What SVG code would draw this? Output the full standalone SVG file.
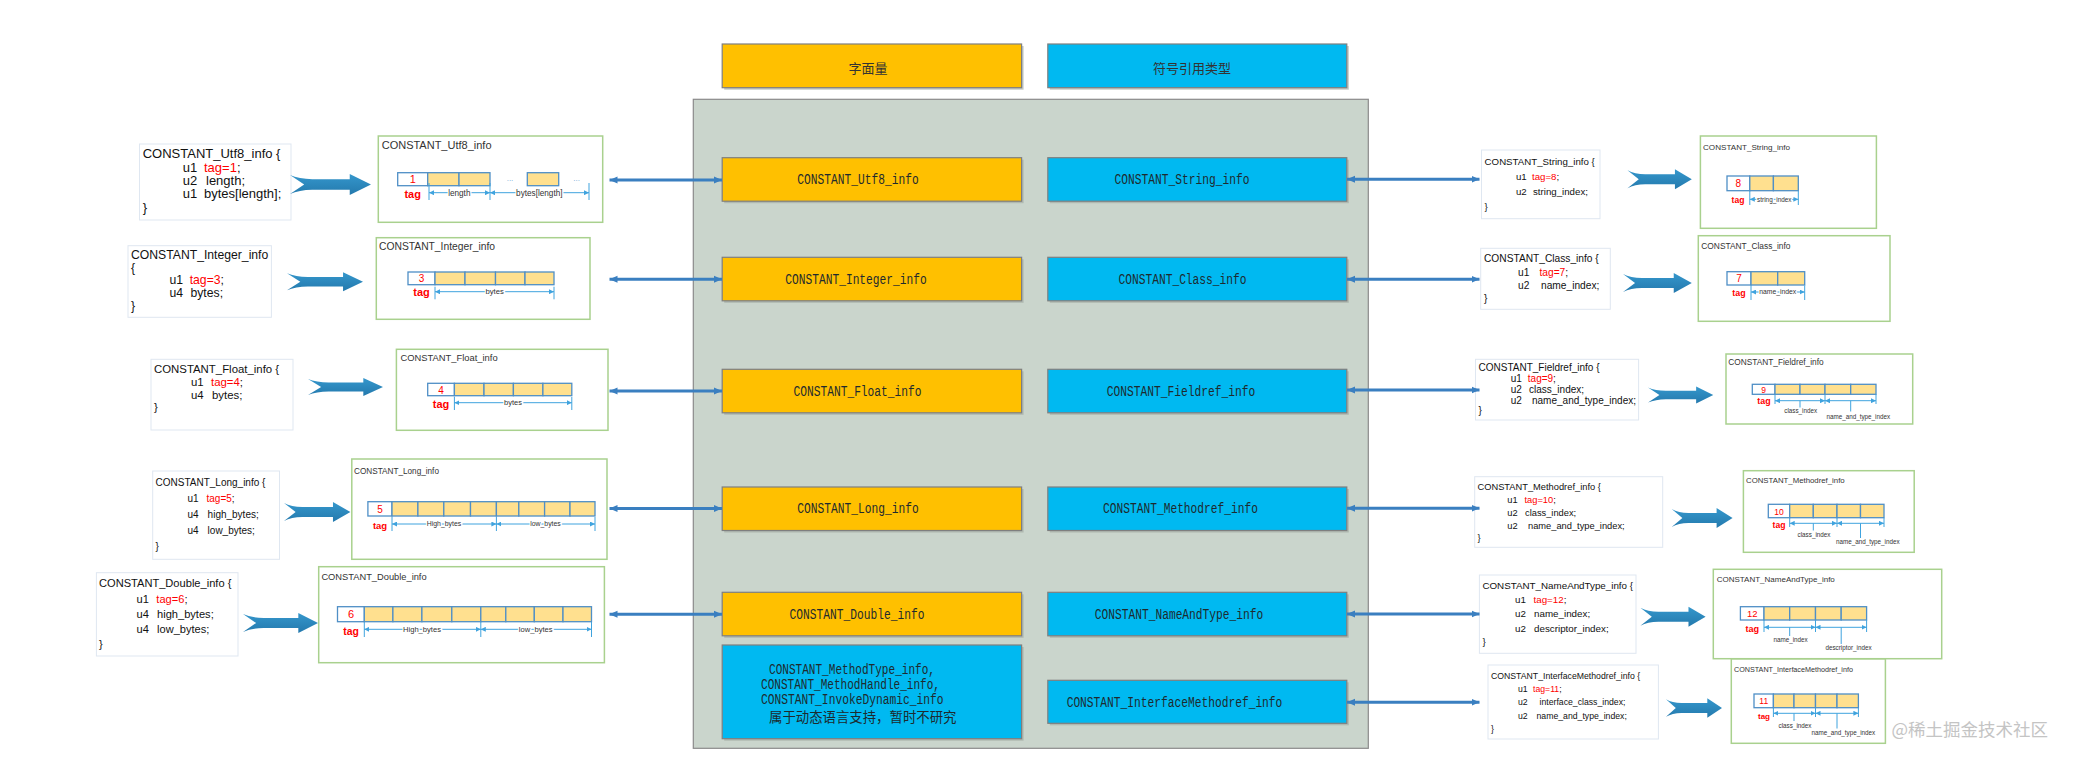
<svg xmlns="http://www.w3.org/2000/svg" width="2073" height="762" viewBox="0 0 2073 762">
<defs>
<style>
.code{font-family:"Liberation Sans",Arial,sans-serif;fill:#111}
.red{fill:#ff0000}
.codebox{fill:#fff;stroke:#dfe7f1;stroke-width:1}
.gbox{fill:#fff;stroke:#a9d18e;stroke-width:1.5}
.gtitle{font-family:"Liberation Sans",Arial,sans-serif;fill:#333}
.cell{fill:#ffe08f;stroke:#4f8fc6;stroke-width:1.3}
.tagcell{fill:#fff;stroke:#4f8fc6;stroke-width:1.3}
.dig{font-family:"Liberation Sans",Arial,sans-serif;fill:#ff0000;text-anchor:middle}
.tag{font-family:"Liberation Sans",Arial,sans-serif;font-weight:bold;fill:#ff0000;text-anchor:middle}
.dots{font-family:"Liberation Sans",Arial,sans-serif;fill:#6fa8d6;font-size:8px;text-anchor:middle}
.dim{stroke:#3fa3de;stroke-width:1;marker-start:url(#da);marker-end:url(#da)}
.tick{stroke:#3fa3de;stroke-width:1;fill:none}
.dl{font-family:"Liberation Sans",Arial,sans-serif;fill:#333;text-anchor:middle;paint-order:stroke;stroke:#fff;stroke-width:2.5}
.dl2{font-family:"Liberation Sans",Arial,sans-serif;fill:#333;text-anchor:middle;font-size:6.3px}
.conn{stroke:#3a7fc0;stroke-width:3;fill:none;marker-start:url(#ah);marker-end:url(#ah)}
.big{fill:url(#bg)}
.obox{fill:#ffc000;stroke:#7f7f7f;stroke-width:1.2}
.bbox{fill:#00b9f1;stroke:#7f7f7f;stroke-width:1.2}
.sh{fill:#9fa79f;opacity:.6}
.ctext{font-family:"Liberation Mono",monospace;font-size:14px;fill:#1e2a2e;text-anchor:middle}
.ctl{font-family:"Liberation Mono",monospace;font-size:14px;fill:#1e2a2e}
.hdr{font-family:"Noto Sans CJK SC",sans-serif;font-size:13px;fill:#333;text-anchor:middle}
</style>
<marker id="ah" viewBox="0 0 8 8" refX="8" refY="4" markerWidth="8" markerHeight="8" markerUnits="userSpaceOnUse" orient="auto-start-reverse"><path d="M0,0.5 L8,4 L0,7.5 Z" fill="#3a7fc0"/></marker>
<marker id="da" viewBox="0 0 6 6" refX="6" refY="3" markerWidth="5" markerHeight="5" markerUnits="userSpaceOnUse" orient="auto-start-reverse"><path d="M0,0 L6,3 L0,6 Z" fill="#3fa3de"/></marker>
<linearGradient id="bg" x1="0" y1="0" x2="0" y2="1"><stop offset="0" stop-color="#3597cc"/><stop offset="1" stop-color="#2479ad"/></linearGradient>
<path id="ba" d="M0,-9.5 Q9,-5.5 22,-5.3 L59,-5.3 L59,-10.5 L80,0 L59,10.5 L59,5.3 L22,5.3 Q9,5.5 0,9.5 L14,0 Z"/>
</defs>
<rect width="2073" height="762" fill="#fff"/>

<!-- center panel -->
<g id="panel">
<rect x="693.3" y="99.3" width="675" height="649" fill="#cad5cc" stroke="#8a8a8a" stroke-width="1.2"/>
</g>
<g id="hdr-literal">
<rect class="sh" x="724.2" y="46" width="299.4" height="43.7"/>
<rect class="obox" x="722.2" y="44" width="299.4" height="43.7"/>
<text class="hdr" x="868" y="72.8">字面量</text>
</g>
<g id="hdr-symbolic">
<rect class="sh" x="1049.8" y="46" width="299" height="43.7"/>
<rect class="bbox" x="1047.8" y="44" width="299" height="43.7"/>
<text class="hdr" x="1192" y="72.8">符号引用类型</text>
</g>

<g id="c-utf8"><rect class="sh" x="724.2" y="159.7" width="299.4" height="43.5"/><rect class="obox" x="722.2" y="157.7" width="299.4" height="43.5"/><text class="ctext" x="858" y="184" textLength="121.3" lengthAdjust="spacingAndGlyphs">CONSTANT_Utf8_info</text></g>
<g id="c-integer"><rect class="sh" x="724.2" y="259.3" width="299.4" height="43.5"/><rect class="obox" x="722.2" y="257.3" width="299.4" height="43.5"/><text class="ctext" x="856" y="283.6" textLength="141.5" lengthAdjust="spacingAndGlyphs">CONSTANT_Integer_info</text></g>
<g id="c-float"><rect class="sh" x="724.2" y="371.3" width="299.4" height="43.5"/><rect class="obox" x="722.2" y="369.3" width="299.4" height="43.5"/><text class="ctext" x="857.5" y="395.6" textLength="128" lengthAdjust="spacingAndGlyphs">CONSTANT_Float_info</text></g>
<g id="c-long"><rect class="sh" x="724.2" y="489" width="299.4" height="43.5"/><rect class="obox" x="722.2" y="487" width="299.4" height="43.5"/><text class="ctext" x="858" y="513.3" textLength="121.3" lengthAdjust="spacingAndGlyphs">CONSTANT_Long_info</text></g>
<g id="c-double"><rect class="sh" x="724.2" y="594.3" width="299.4" height="43.5"/><rect class="obox" x="722.2" y="592.3" width="299.4" height="43.5"/><text class="ctext" x="857" y="618.6" textLength="134.8" lengthAdjust="spacingAndGlyphs">CONSTANT_Double_info</text></g>
<g id="c-dynamic"><rect class="sh" x="724.2" y="647" width="299.4" height="93.7"/><rect class="bbox" x="722.2" y="645" width="299.4" height="93.7"/>
<text class="ctl" x="769" y="673.5" textLength="166" lengthAdjust="spacingAndGlyphs">CONSTANT_MethodType_info,</text>
<text class="ctl" x="761" y="688.5" textLength="179" lengthAdjust="spacingAndGlyphs">CONSTANT_MethodHandle_info,</text>
<text class="ctl" x="761" y="703.5" textLength="182.6" lengthAdjust="spacingAndGlyphs">CONSTANT_InvokeDynamic_info</text>
<text x="769" y="721.5" font-family="Noto Sans CJK SC,sans-serif" font-size="13.4" fill="#1e2a2e">属于动态语言支持，暂时不研究</text></g>

<g id="c-string"><rect class="sh" x="1049.8" y="159.7" width="299" height="43.5"/><rect class="bbox" x="1047.8" y="157.7" width="299" height="43.5"/><text class="ctext" x="1182" y="184" textLength="134.8" lengthAdjust="spacingAndGlyphs">CONSTANT_String_info</text></g>
<g id="c-class"><rect class="sh" x="1049.8" y="259.3" width="299" height="43.5"/><rect class="bbox" x="1047.8" y="257.3" width="299" height="43.5"/><text class="ctext" x="1182.5" y="283.6" textLength="128" lengthAdjust="spacingAndGlyphs">CONSTANT_Class_info</text></g>
<g id="c-fieldref"><rect class="sh" x="1049.8" y="371.3" width="299" height="43.5"/><rect class="bbox" x="1047.8" y="369.3" width="299" height="43.5"/><text class="ctext" x="1181" y="395.6" textLength="148.3" lengthAdjust="spacingAndGlyphs">CONSTANT_Fieldref_info</text></g>
<g id="c-methodref"><rect class="sh" x="1049.8" y="489" width="299" height="43.5"/><rect class="bbox" x="1047.8" y="487" width="299" height="43.5"/><text class="ctext" x="1180.5" y="513.3" textLength="155" lengthAdjust="spacingAndGlyphs">CONSTANT_Methodref_info</text></g>
<g id="c-nameandtype"><rect class="sh" x="1049.8" y="594.3" width="299" height="43.5"/><rect class="bbox" x="1047.8" y="592.3" width="299" height="43.5"/><text class="ctext" x="1179" y="618.6" textLength="168.5" lengthAdjust="spacingAndGlyphs">CONSTANT_NameAndType_info</text></g>
<g id="c-interface"><rect class="sh" x="1049.8" y="682.3" width="299" height="43"/><rect class="bbox" x="1047.8" y="680.3" width="299" height="43"/><text class="ctext" x="1174.5" y="706.6" textLength="215.7" lengthAdjust="spacingAndGlyphs">CONSTANT_InterfaceMethodref_info</text></g>

<!-- left code boxes -->
<g id="code-utf8"><rect class="codebox" x="139.5" y="144" width="151.5" height="76"/>
<g class="code" font-size="13">
<text x="142.7" y="158.3">CONSTANT_Utf8_info {</text>
<text x="182.7" y="171.7">u1</text><text x="204" y="171.7"><tspan class="red">tag=1</tspan>;</text>
<text x="182.7" y="185">u2</text><text x="206" y="185">length;</text>
<text x="182.7" y="198.3">u1</text><text x="204" y="198.3">bytes[length];</text>
<text x="142.7" y="211.7">}</text></g></g>

<g id="code-integer"><rect class="codebox" x="128" y="245.7" width="143.4" height="71.6"/>
<g class="code" font-size="12.2">
<text x="131" y="258.5">CONSTANT_Integer_info</text>
<text x="131" y="271.5">{</text>
<text x="169.6" y="284">u1</text><text x="189.7" y="284"><tspan class="red">tag=3</tspan>;</text>
<text x="169.6" y="297.3">u4</text><text x="190.5" y="297.3">bytes;</text>
<text x="131" y="310">}</text></g></g>

<g id="code-float"><rect class="codebox" x="151" y="359.3" width="142" height="70.7"/>
<g class="code" font-size="11.4">
<text x="154" y="372.5">CONSTANT_Float_info {</text>
<text x="191" y="385.8">u1</text><text x="211" y="385.8"><tspan class="red">tag=4</tspan>;</text>
<text x="191" y="399">u4</text><text x="212" y="399">bytes;</text>
<text x="154" y="410.8">}</text></g></g>

<g id="code-long"><rect class="codebox" x="152.7" y="471" width="126.8" height="88.3"/>
<g class="code" font-size="10">
<text x="155.5" y="485.8">CONSTANT_Long_info {</text>
<text x="187.5" y="501.8">u1</text><text x="206.5" y="501.8"><tspan class="red">tag=5</tspan>;</text>
<text x="187.5" y="518">u4</text><text x="207.6" y="518">high_bytes;</text>
<text x="187.5" y="534">u4</text><text x="207.6" y="534">low_bytes;</text>
<text x="155.5" y="550">}</text></g></g>

<g id="code-double"><rect class="codebox" x="96.4" y="572.7" width="141.6" height="83.3"/>
<g class="code" font-size="11.1">
<text x="99" y="586.8">CONSTANT_Double_info {</text>
<text x="136.6" y="602.5">u1</text><text x="156.3" y="602.5"><tspan class="red">tag=6</tspan>;</text>
<text x="136.6" y="617.8">u4</text><text x="157" y="617.8">high_bytes;</text>
<text x="136.6" y="632.5">u4</text><text x="157" y="632.5">low_bytes;</text>
<text x="99" y="647.5">}</text></g></g>

<!-- right code boxes -->
<g id="code-string"><rect class="codebox" x="1481.5" y="150" width="118.5" height="68.7"/>
<g class="code" font-size="9.7">
<text x="1484.6" y="164.5">CONSTANT_String_info {</text>
<text x="1515.9" y="180">u1</text><text x="1532" y="180"><tspan class="red">tag=8</tspan>;</text>
<text x="1515.9" y="195">u2</text><text x="1533" y="195">string_index;</text>
<text x="1484.6" y="209.5">}</text></g></g>

<g id="code-class"><rect class="codebox" x="1480.7" y="248.3" width="129.6" height="61"/>
<g class="code" font-size="10.2">
<text x="1484" y="261.8">CONSTANT_Class_info {</text>
<text x="1518" y="275.8">u1</text><text x="1539.5" y="275.8"><tspan class="red">tag=7</tspan>;</text>
<text x="1518" y="289.2">u2</text><text x="1541" y="289.2">name_index;</text>
<text x="1484" y="301.8">}</text></g></g>

<g id="code-fieldref"><rect class="codebox" x="1475.5" y="359.3" width="163.1" height="60.7"/>
<g class="code" font-size="10">
<text x="1478.5" y="370.5">CONSTANT_Fieldref_info {</text>
<text x="1510.7" y="381.5">u1</text><text x="1527.8" y="381.5"><tspan class="red">tag=9</tspan>;</text>
<text x="1510.7" y="393">u2</text><text x="1529" y="393">class_index;</text>
<text x="1510.7" y="404">u2</text><text x="1532" y="404">name_and_type_index;</text>
<text x="1478.5" y="414">}</text></g></g>

<g id="code-methodref"><rect class="codebox" x="1474.7" y="476.7" width="188" height="70.6"/>
<g class="code" font-size="9.3">
<text x="1477.5" y="489.5">CONSTANT_Methodref_info {</text>
<text x="1507.3" y="502.8">u1</text><text x="1524.5" y="502.8"><tspan class="red">tag=10</tspan>;</text>
<text x="1507.3" y="515.8">u2</text><text x="1525" y="515.8">class_index;</text>
<text x="1507.3" y="528.5">u2</text><text x="1528" y="528.5">name_and_type_index;</text>
<text x="1477.5" y="540.8">}</text></g></g>

<g id="code-nameandtype"><rect class="codebox" x="1479.4" y="575" width="156.6" height="78.3"/>
<g class="code" font-size="9.8">
<text x="1482.4" y="588.5">CONSTANT_NameAndType_info {</text>
<text x="1515" y="602.8">u1</text><text x="1533.5" y="602.8"><tspan class="red">tag=12</tspan>;</text>
<text x="1515" y="616.8">u2</text><text x="1534" y="616.8">name_index;</text>
<text x="1515" y="631.5">u2</text><text x="1534" y="631.5">descriptor_index;</text>
<text x="1482.4" y="644.5">}</text></g></g>

<g id="code-interface"><rect class="codebox" x="1488" y="665" width="170.4" height="74"/>
<g class="code" font-size="8.7">
<text x="1491" y="678.5">CONSTANT_InterfaceMethodref_info {</text>
<text x="1518" y="691.8">u1</text><text x="1533" y="691.8"><tspan class="red">tag=11</tspan>;</text>
<text x="1518" y="705.2">u2</text><text x="1539.5" y="705.2">interface_class_index;</text>
<text x="1518" y="718.5">u2</text><text x="1536.5" y="718.5">name_and_type_index;</text>
<text x="1491" y="731.8">}</text></g></g>

<!-- left layout diagrams -->
<g id="diag-utf8"><rect class="gbox" x="378.3" y="136" width="224.4" height="86.3"/>
<text class="gtitle" x="381.7" y="149" font-size="11">CONSTANT_Utf8_info</text>
<rect class="tagcell" x="397.7" y="172.7" width="30" height="13"/><text class="dig" x="412.7" y="183.3" font-size="11">1</text>
<rect class="cell" x="427.7" y="172.7" width="31.3" height="13"/><rect class="cell" x="459" y="172.7" width="31" height="13"/>
<text class="dots" x="510" y="181">...</text>
<rect class="cell" x="527.3" y="172.7" width="31.4" height="13"/>
<text class="dots" x="576.7" y="181">...</text>
<text class="tag" x="412.7" y="197.5" font-size="11">tag</text>
<path class="tick" d="M429,183V200M490,183V200M589,183V200"/>
<line class="dim" x1="429" y1="192.7" x2="490" y2="192.7"/><line class="dim" x1="490" y1="192.7" x2="589" y2="192.7"/>
<text class="dl" x="459.3" y="195.5" font-size="8.2">length</text><text class="dl" x="539.3" y="195.5" font-size="8.2">bytes[length]</text></g>

<g id="diag-integer"><rect class="gbox" x="376.3" y="237.7" width="213.7" height="81.6"/>
<text class="gtitle" x="379" y="250" font-size="10.3">CONSTANT_Integer_info</text>
<rect class="tagcell" x="408" y="272" width="27" height="12.7"/><text class="dig" x="421.5" y="282.3" font-size="10">3</text>
<rect class="cell" x="435" y="272" width="30" height="12.7"/><rect class="cell" x="465" y="272" width="30.5" height="12.7"/><rect class="cell" x="495.5" y="272" width="29.5" height="12.7"/><rect class="cell" x="525" y="272" width="29" height="12.7"/>
<text class="tag" x="421.5" y="296" font-size="11">tag</text>
<path class="tick" d="M435,286.7V299.3M554,286.7V299.3"/>
<line class="dim" x1="435" y1="291.7" x2="554" y2="291.7"/>
<text class="dl" x="494.6" y="294.3" font-size="7.7">bytes</text></g>

<g id="diag-float"><rect class="gbox" x="396.4" y="349.3" width="211.6" height="81"/>
<text class="gtitle" x="400.4" y="361" font-size="9.4">CONSTANT_Float_info</text>
<rect class="tagcell" x="427.7" y="383.3" width="26.7" height="12.4"/><text class="dig" x="441" y="393.5" font-size="10">4</text>
<rect class="cell" x="454.4" y="383.3" width="29.6" height="12.4"/><rect class="cell" x="484" y="383.3" width="29.4" height="12.4"/><rect class="cell" x="513.4" y="383.3" width="29.5" height="12.4"/><rect class="cell" x="542.9" y="383.3" width="28.9" height="12.4"/>
<text class="tag" x="441" y="407.5" font-size="11">tag</text>
<path class="tick" d="M454.4,397V410M571.8,397V410"/>
<line class="dim" x1="454.4" y1="402.7" x2="571.8" y2="402.7"/>
<text class="dl" x="513" y="405.2" font-size="7.5">bytes</text></g>

<g id="diag-long"><rect class="gbox" x="351.8" y="459" width="255.2" height="100.3"/>
<text class="gtitle" x="354" y="473.5" font-size="8.2">CONSTANT_Long_info</text>
<rect class="tagcell" x="367.9" y="501.7" width="24.1" height="14.3"/><text class="dig" x="380" y="512.5" font-size="10">5</text>
<rect class="cell" x="392" y="501.7" width="25.9" height="14.3"/><rect class="cell" x="417.9" y="501.7" width="25.9" height="14.3"/><rect class="cell" x="443.8" y="501.7" width="26.7" height="14.3"/><rect class="cell" x="470.5" y="501.7" width="25.9" height="14.3"/><rect class="cell" x="496.4" y="501.7" width="22.4" height="14.3"/><rect class="cell" x="518.8" y="501.7" width="25.8" height="14.3"/><rect class="cell" x="544.6" y="501.7" width="25.4" height="14.3"/><rect class="cell" x="570" y="501.7" width="25" height="14.3"/>
<text class="tag" x="380" y="529" font-size="9.5">tag</text>
<path class="tick" d="M392,517V531M496.4,517V531M595,517V531"/>
<line class="dim" x1="392" y1="524" x2="496.4" y2="524"/><line class="dim" x1="496.4" y1="524" x2="595" y2="524"/>
<text class="dl" x="444" y="526.3" font-size="6.9">High_bytes</text><text class="dl" x="545.5" y="526.3" font-size="6.9">low_bytes</text></g>

<g id="diag-double"><rect class="gbox" x="318.7" y="566.7" width="285.7" height="96"/>
<text class="gtitle" x="321.4" y="580" font-size="9.3">CONSTANT_Double_info</text>
<rect class="tagcell" x="337.5" y="606.7" width="26.8" height="15"/><text class="dig" x="351" y="618" font-size="11">6</text>
<rect class="cell" x="364.3" y="606.7" width="28.6" height="15"/><rect class="cell" x="392.9" y="606.7" width="29" height="15"/><rect class="cell" x="421.9" y="606.7" width="29.9" height="15"/><rect class="cell" x="451.8" y="606.7" width="29" height="15"/><rect class="cell" x="480.8" y="606.7" width="25" height="15"/><rect class="cell" x="505.8" y="606.7" width="28.5" height="15"/><rect class="cell" x="534.3" y="606.7" width="28.7" height="15"/><rect class="cell" x="563" y="606.7" width="28.5" height="15"/>
<text class="tag" x="351" y="634.5" font-size="10.4">tag</text>
<path class="tick" d="M364.3,622V637M480.8,622V637M591.5,622V637"/>
<line class="dim" x1="364.3" y1="629.3" x2="480.8" y2="629.3"/><line class="dim" x1="480.8" y1="629.3" x2="591.5" y2="629.3"/>
<text class="dl" x="422" y="632" font-size="7.6">High_bytes</text><text class="dl" x="535.7" y="632" font-size="7.6">low_bytes</text></g>

<!-- right layout diagrams -->
<g id="diag-string"><rect class="gbox" x="1700.4" y="136" width="176" height="92.3"/>
<text class="gtitle" x="1703" y="149.5" font-size="8.1">CONSTANT_String_info</text>
<rect class="tagcell" x="1727" y="176" width="22.8" height="14.7"/><text class="dig" x="1738.4" y="187.3" font-size="10">8</text>
<rect class="cell" x="1749.8" y="176" width="23.6" height="14.7"/><rect class="cell" x="1773.4" y="176" width="24.9" height="14.7"/>
<text class="tag" x="1738" y="203" font-size="8.6">tag</text>
<path class="tick" d="M1749.8,191V205M1798.3,191V205"/>
<line class="dim" x1="1749.8" y1="199.3" x2="1798.3" y2="199.3"/>
<text class="dl" x="1774.3" y="201.5" font-size="6.4">string_index</text></g>

<g id="diag-class"><rect class="gbox" x="1698.3" y="235.7" width="191.7" height="85.6"/>
<text class="gtitle" x="1701.3" y="248.5" font-size="8.4">CONSTANT_Class_info</text>
<rect class="tagcell" x="1727" y="271.7" width="24" height="13.3"/><text class="dig" x="1739" y="282" font-size="10">7</text>
<rect class="cell" x="1751" y="271.7" width="26.7" height="13.3"/><rect class="cell" x="1777.7" y="271.7" width="27" height="13.3"/>
<text class="tag" x="1739" y="296" font-size="8.9">tag</text>
<path class="tick" d="M1751,285.5V300M1804.7,285.5V300"/>
<line class="dim" x1="1751" y1="292" x2="1804.7" y2="292"/>
<text class="dl" x="1777.7" y="294.3" font-size="6.8">name_index</text></g>

<g id="diag-fieldref"><rect class="gbox" x="1726" y="354" width="186.7" height="70"/>
<text class="gtitle" x="1728.3" y="365" font-size="8.3">CONSTANT_Fieldref_info</text>
<rect class="tagcell" x="1752.3" y="384.3" width="22.7" height="10"/><text class="dig" x="1763.6" y="392.6" font-size="8.5">9</text>
<rect class="cell" x="1775" y="384.3" width="25" height="10"/><rect class="cell" x="1800" y="384.3" width="25" height="10"/><rect class="cell" x="1825" y="384.3" width="25.7" height="10"/><rect class="cell" x="1850.7" y="384.3" width="25.3" height="10"/>
<text class="tag" x="1764" y="404" font-size="8.9">tag</text>
<path class="tick" d="M1775,394.3V404M1825,394.3V404M1876,394.3V404M1800,400.7V407.5M1850.7,400.7V411.5"/>
<line class="dim" x1="1775" y1="400.7" x2="1825" y2="400.7"/><line class="dim" x1="1825" y1="400.7" x2="1876" y2="400.7"/>
<text class="dl2" x="1800.7" y="412.8">class_index</text><text class="dl2" x="1858.3" y="418.8">name_and_type_index</text></g>

<g id="diag-methodref"><rect class="gbox" x="1743.4" y="470.7" width="170.8" height="81.6"/>
<text class="gtitle" x="1746" y="482.5" font-size="7.8">CONSTANT_Methodref_info</text>
<rect class="tagcell" x="1768.3" y="504.3" width="21.4" height="13.4"/><text class="dig" x="1779" y="514.5" font-size="8.5">10</text>
<rect class="cell" x="1789.7" y="504.3" width="23.6" height="13.4"/><rect class="cell" x="1813.3" y="504.3" width="23.7" height="13.4"/><rect class="cell" x="1837" y="504.3" width="23.5" height="13.4"/><rect class="cell" x="1860.5" y="504.3" width="23.5" height="13.4"/>
<text class="tag" x="1779" y="528" font-size="8.6">tag</text>
<path class="tick" d="M1789.7,517.7V527M1837,517.7V527M1884,517.7V527M1813.3,523.3V530.5M1860.5,523.3V538"/>
<line class="dim" x1="1789.7" y1="523.3" x2="1837" y2="523.3"/><line class="dim" x1="1837" y1="523.3" x2="1884" y2="523.3"/>
<text class="dl2" x="1814" y="536.5">class_index</text><text class="dl2" x="1867.8" y="544">name_and_type_index</text></g>

<g id="diag-nameandtype"><rect class="gbox" x="1713.3" y="569.3" width="228.4" height="89.4"/>
<text class="gtitle" x="1716.7" y="582" font-size="8">CONSTANT_NameAndType_info</text>
<rect class="tagcell" x="1740.4" y="606.7" width="23.6" height="13.3"/><text class="dig" x="1752.2" y="617" font-size="9.5">12</text>
<rect class="cell" x="1764" y="606.7" width="25.7" height="13.3"/><rect class="cell" x="1789.7" y="606.7" width="25.8" height="13.3"/><rect class="cell" x="1815.5" y="606.7" width="25.7" height="13.3"/><rect class="cell" x="1841.2" y="606.7" width="25.4" height="13.3"/>
<text class="tag" x="1752.2" y="632" font-size="9.1">tag</text>
<path class="tick" d="M1764,620V632M1815.5,620V632M1866.6,620V632M1789.7,627.3V636M1841.2,627.3V644"/>
<line class="dim" x1="1764" y1="627.3" x2="1815.5" y2="627.3"/><line class="dim" x1="1815.5" y1="627.3" x2="1866.6" y2="627.3"/>
<text class="dl2" x="1790.6" y="642">name_index</text><text class="dl2" x="1848.5" y="650">descriptor_index</text></g>

<g id="diag-interface"><rect class="gbox" x="1731.3" y="659" width="154.1" height="84.3"/>
<text class="gtitle" x="1734" y="671.5" font-size="7.2">CONSTANT_InterfaceMethodref_info</text>
<rect class="tagcell" x="1754" y="694" width="19.4" height="13.7"/><text class="dig" x="1763.7" y="704.2" font-size="8.5">11</text>
<rect class="cell" x="1773.4" y="694" width="20.6" height="13.7"/><rect class="cell" x="1794" y="694" width="21.5" height="13.7"/><rect class="cell" x="1815.5" y="694" width="21.5" height="13.7"/><rect class="cell" x="1837" y="694" width="21.4" height="13.7"/>
<text class="tag" x="1764" y="719" font-size="8">tag</text>
<path class="tick" d="M1773.4,707.7V717M1815.5,707.7V717M1858.4,707.7V717M1794,713.3V721M1837,713.3V728.5"/>
<line class="dim" x1="1773.4" y1="713.3" x2="1815.5" y2="713.3"/><line class="dim" x1="1815.5" y1="713.3" x2="1858.4" y2="713.3"/>
<text class="dl2" x="1795" y="727.5">class_index</text><text class="dl2" x="1843.4" y="735">name_and_type_index</text></g>

<!-- connectors -->
<g id="connectors">
<line class="conn" x1="609.5" y1="180" x2="722" y2="180"/>
<line class="conn" x1="609.5" y1="279.3" x2="722" y2="279.3"/>
<line class="conn" x1="609.5" y1="391" x2="722" y2="391"/>
<line class="conn" x1="609.5" y1="508.5" x2="722" y2="508.5"/>
<line class="conn" x1="609.5" y1="614.3" x2="722" y2="614.3"/>
<line class="conn" x1="1347" y1="179.3" x2="1479.5" y2="179.3"/>
<line class="conn" x1="1347" y1="279.3" x2="1479.5" y2="279.3"/>
<line class="conn" x1="1347" y1="390" x2="1479.5" y2="390"/>
<line class="conn" x1="1347" y1="508.3" x2="1479.5" y2="508.3"/>
<line class="conn" x1="1347" y1="614" x2="1479.5" y2="614"/>
<line class="conn" x1="1347" y1="702.3" x2="1479.5" y2="702.3"/>
<use class="big" href="#ba" transform="translate(290,184.5) scale(1.0125,1)"/>
<use class="big" href="#ba" transform="translate(287,281.7) scale(0.95,0.9)"/>
<use class="big" href="#ba" transform="translate(308,387) scale(0.9375,0.85)"/>
<use class="big" href="#ba" transform="translate(284,512) scale(0.83,0.95)"/>
<use class="big" href="#ba" transform="translate(243,623) scale(0.9375,0.95)"/>
<use class="big" href="#ba" transform="translate(1627.5,179.3) scale(0.804,0.95)"/>
<use class="big" href="#ba" transform="translate(1623,283) scale(0.86,0.95)"/>
<use class="big" href="#ba" transform="translate(1648,395) scale(0.816,0.8)"/>
<use class="big" href="#ba" transform="translate(1671.7,518) scale(0.761,0.95)"/>
<use class="big" href="#ba" transform="translate(1640.4,616.7) scale(0.815,0.95)"/>
<use class="big" href="#ba" transform="translate(1666,708) scale(0.70,0.93)"/>
</g>

<text x="1891.4" y="736" font-family="Noto Sans CJK SC,sans-serif" font-size="17.5" fill="#c4c4c4">@稀土掘金技术社区</text>
</svg>
